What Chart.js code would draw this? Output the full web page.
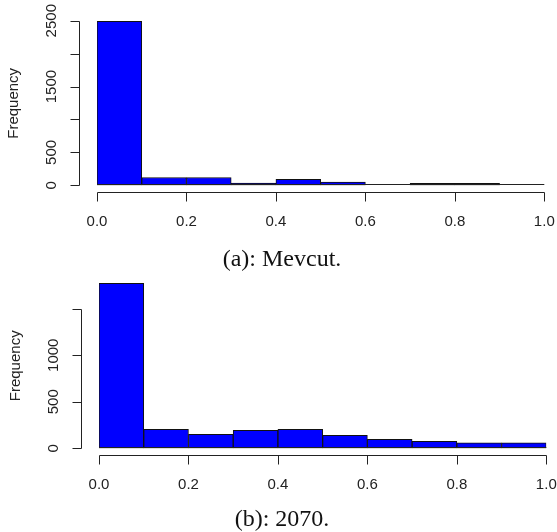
<!DOCTYPE html>
<html><head><meta charset="utf-8">
<script src="https://cdn.jsdelivr.net/npm/chart.js@4"></script>
<style>
html,body{margin:0;padding:0;background:#fff;}
#wrap{position:relative;width:557px;height:532px;overflow:hidden;background:#fff;}
canvas{position:absolute;left:0;top:0;}
.cap{position:absolute;font-family:"Liberation Serif",serif;font-size:24px;line-height:24px;color:#111;white-space:nowrap;transform:translateX(-50%);}
</style></head><body>
<div id="wrap">
<canvas id="c1" width="557" height="532"></canvas>
<canvas id="c2" width="557" height="532"></canvas>
<div class="cap" style="left:282px;top:246px">(a): Mevcut.</div>
<div class="cap" style="left:282px;top:506px">(b): 2070.</div>
</div>
<script>
// ---- data ----
const binEdges = [0, 0.1, 0.2, 0.3, 0.4, 0.5, 0.6, 0.7, 0.8, 0.9, 1.0];
const mevcutCounts = [2490, 118, 118, 35, 91, 50, 0, 30, 30, 0];
const counts2070 = [1773, 204, 150, 193, 204, 140, 97, 75, 60, 60];
const xTickValues = [0, 0.2, 0.4, 0.6, 0.8, 1.0];
const xTickLabels = ['0.0', '0.2', '0.4', '0.6', '0.8', '1.0'];
const yTicksA = [0, 500, 1000, 1500, 2000, 2500];
const yLabelsA = ['0', '500', '', '1500', '', '2500'];
const yTicksB = [0, 500, 1000, 1500];
const yLabelsB = ['0', '500', '1000', ''];
const yTitle = 'Frequency';

const binCenters = binEdges.slice(0, -1).map((e, i) => (e + binEdges[i + 1]) / 2);

const rAxes = {
  id: 'rAxes',
  afterDraw(chart, args, o) {
    const ctx = chart.ctx, xs = chart.scales.x, ys = chart.scales.y;
    const ymax = Math.max(...o.counts);
    const ax = Math.round(xs.getPixelForValue(-0.04)) + 0.5;
    const ay = Math.round(ys.getPixelForValue(-0.04 * ymax)) + 0.5;
    ctx.save();
    ctx.strokeStyle = '#222';
    ctx.fillStyle = '#222';
    ctx.lineWidth = 1;
    // zero line under the bins
    const by = Math.round(ys.getPixelForValue(0)) - 0.5;
    ctx.beginPath();
    ctx.moveTo(xs.getPixelForValue(binEdges[0]), by);
    ctx.lineTo(xs.getPixelForValue(binEdges[binEdges.length - 1]), by);
    ctx.stroke();
    // y axis
    const yt = o.yTicks;
    ctx.beginPath();
    ctx.moveTo(ax, Math.round(ys.getPixelForValue(yt[0])) + 0.5);
    ctx.lineTo(ax, Math.round(ys.getPixelForValue(yt[yt.length - 1])) + 0.5);
    yt.forEach(v => {
      const p = Math.round(ys.getPixelForValue(v)) + 0.5;
      ctx.moveTo(ax, p); ctx.lineTo(ax - 9, p);
    });
    ctx.stroke();
    ctx.font = '15px "Liberation Sans", Arial, sans-serif';
    ctx.textAlign = 'center';
    ctx.textBaseline = 'middle';
    yt.forEach((v, i) => {
      if (!o.yLabels[i]) return;
      ctx.save();
      ctx.translate(ax - 28, ys.getPixelForValue(v));
      ctx.rotate(-Math.PI / 2);
      ctx.fillText(o.yLabels[i], 0, 0);
      ctx.restore();
    });
    // y title
    ctx.save();
    ctx.translate(ax - 65.5, ys.getPixelForValue(ymax / 2));
    ctx.rotate(-Math.PI / 2);
    ctx.fillText(yTitle, 0, 0);
    ctx.restore();
    // x axis
    ctx.beginPath();
    ctx.moveTo(Math.round(xs.getPixelForValue(xTickValues[0])) + 0.5, ay);
    ctx.lineTo(Math.round(xs.getPixelForValue(xTickValues[xTickValues.length - 1])) + 0.5, ay);
    xTickValues.forEach(v => {
      const p = Math.round(xs.getPixelForValue(v)) + 0.5;
      ctx.moveTo(p, ay); ctx.lineTo(p, ay + 9);
    });
    ctx.stroke();
    xTickValues.forEach((v, i) => {
      ctx.fillText(xTickLabels[i], xs.getPixelForValue(v), ay + 29);
    });
    ctx.restore();
  }
};

function makeChart(id, counts, pad, yMaxScale, yTicks, yLabels) {
  return new Chart(document.getElementById(id), {
    type: 'bar',
    data: {
      datasets: [{
        data: binCenters.map((c, i) => ({ x: c, y: counts[i] })),
        backgroundColor: '#0000ff',
        borderColor: '#111',
        borderWidth: 1,
        borderSkipped: false,
        barPercentage: 1,
        categoryPercentage: 1
      }]
    },
    options: {
      responsive: false,
      animation: false,
      events: [],
      layout: { padding: pad },
      plugins: {
        legend: { display: false },
        tooltip: { enabled: false },
        rAxes: { counts: counts, yTicks: yTicks, yLabels: yLabels }
      },
      scales: {
        x: { type: 'linear', display: false, offset: false, min: 0, max: 1, ticks: { stepSize: 0.1 } },
        y: { display: false, min: 0, max: yMaxScale }
      }
    },
    plugins: [rAxes]
  });
}

makeChart('c1', mevcutCounts, { left: 97, right: 12.7, top: 20.7, bottom: 346.7 }, 2500, yTicksA, yLabelsA);
makeChart('c2', counts2070, { left: 99, right: 10.7, top: 280.8, bottom: 83.7 }, 1800, yTicksB, yLabelsB);
</script>
</body></html>
